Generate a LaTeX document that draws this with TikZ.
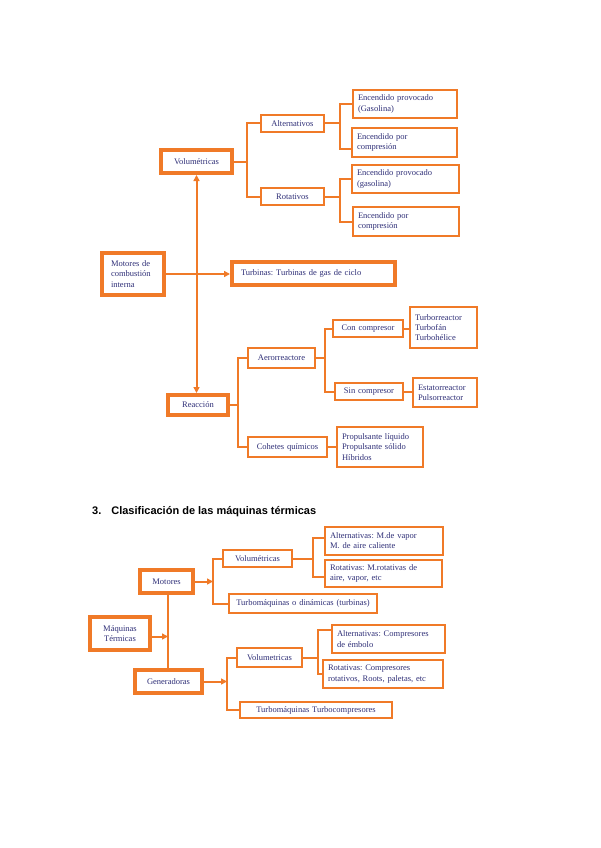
\documentclass[tikz,border=0pt]{standalone}
\usepackage{fontspec}
\setmainfont{Liberation Serif}
\newfontfamily\titlefont{Liberation Sans}
\usetikzlibrary{arrows.meta}
\definecolor{org}{RGB}{240,122,40}
\definecolor{ink}{RGB}{48,48,120}
\frenchspacing
\newcommand\mybox[7]{%
  \pgfmathsetmacro\bw{#5-#3}%
  \pgfmathsetmacro\bh{#6-#4}%
  \pgfmathsetmacro\bcx{(#3+#5)/2}%
  \pgfmathsetmacro\bcy{(#4+#6)/2}%
  \pgfmathsetmacro\btw{#5-#3-10}%
  \node[#1, minimum width=\bw pt, minimum height=\bh pt, text width=\btw pt] (#2) at (\bcx,\bcy) {#7};}
\tikzset{
  basebox/.style={draw=org, fill=white, text=ink, font=\fontsize{8.5}{10.2}\selectfont\frenchspacing, inner xsep=5pt, inner ysep=0pt, align=left},
  lightbox/.style={basebox, line width=2.2pt},
  heavybox/.style={basebox, line width=4pt},
  ctr/.style={align=center},
  pad/.style={inner xsep=9pt},
  conn/.style={draw=org, line width=2pt},
  arr/.style={conn, -{Triangle[length=6pt,width=6pt]}},
  darr/.style={conn, {Triangle[length=6pt,width=6pt]}-{Triangle[length=6pt,width=6pt]}},
}
\begin{document}
\begin{tikzpicture}[x=1pt,y=-1pt]
\useasboundingbox[fill=white] (0,0) rectangle (600,848);
% ---------- top diagram ----------
\mybox{heavybox,ctr}{vol}{161}{150}{232}{173}{Volumétricas}
\mybox{lightbox,ctr}{alt}{261}{115}{324}{132}{Alternativos}
\mybox{lightbox,ctr}{rot}{261}{188}{324}{205}{Rotativos}
\mybox{lightbox}{e1}{353}{90}{457}{118}{Encendido provocado\\(Gasolina)}
\mybox{lightbox}{e2}{352}{128}{457}{157}{Encendido por\\compresión}
\mybox{lightbox}{e3}{352}{165}{459}{193}{Encendido provocado\\(gasolina)}
\mybox{lightbox}{e4}{353}{207}{459}{236}{Encendido por\\compresión}
\mybox{heavybox,pad}{mci}{106}{253}{160}{295}{Motores de\\combustión\\interna}
\mybox{heavybox,pad}{tur}{236}{262}{391}{285}{Turbinas: Turbinas de gas de ciclo}
\mybox{heavybox,ctr}{rea}{168}{395}{228}{415}{Reacción}
\mybox{lightbox,ctr}{aer}{248}{348}{315}{368}{Aerorreactore}
\mybox{lightbox,ctr}{coh}{248}{437}{327}{457}{Cohetes químicos}
\mybox{lightbox,ctr}{con}{333}{320}{403}{337}{Con compresor}
\mybox{lightbox}{tb}{410}{307}{477}{348}{Turborreactor\\Turbofán\\Turbohélice}
\mybox{lightbox,ctr}{sin}{335}{383}{403}{400}{Sin compresor}
\mybox{lightbox}{est}{413}{378}{477}{407}{Estatorreactor\\Pulsorreactor}
\mybox{lightbox}{pro}{337}{427}{423}{467}{Propulsante líquido\\Propulsante sólido\\Híbridos}

\coordinate (j1) at (247,0);
\draw[conn] (vol.east) -- (vol.east -| j1);
\draw[conn] (alt.west) -| (j1 |- rot.west) -- (rot.west);
\coordinate (j2) at (340,0);
\coordinate (e2in) at ([yshift=-6pt]e2.west);
\draw[conn] (alt.east) -- (alt.east -| j2);
\draw[conn] (e1.west) -| (j2 |- e2in) -- (e2in);
\draw[conn] (rot.east) -- (rot.east -| j2);
\draw[conn] (e3.west) -| (j2 |- e4.west) -- (e4.west);
\draw[arr] (mci.east) -- (mci.east -| tur.west);
\draw[darr] (vol.south) -- (vol.south |- rea.north);
\coordinate (j3) at (238,0);
\draw[conn] (rea.east) -- (rea.east -| j3);
\draw[conn] (aer.west) -| (j3 |- coh.west) -- (coh.west);
\coordinate (j4) at (325,0);
\draw[conn] (aer.east) -- (aer.east -| j4);
\draw[conn] (con.west) -| (j4 |- sin.west) -- (sin.west);
\draw[conn] (con.east) -- (con.east -| tb.west);
\draw[conn] (sin.east) -- (sin.east -| est.west);
\draw[conn] (coh.east) -- (coh.east -| pro.west);

% ---------- title ----------
\node[anchor=base west, inner sep=0pt, font=\titlefont\bfseries\fontsize{11}{13}\selectfont] (title) at (92,514) {3.\hspace{10pt}Clasificación de las máquinas térmicas};

% ---------- bottom diagram ----------
\mybox{heavybox,ctr}{mot}{140}{570}{193}{593}{Motores}
\mybox{lightbox,ctr}{vol2}{223}{550}{292}{567}{Volumétricas}
\mybox{lightbox,ctr}{tm}{229}{594}{377}{613}{Turbomáquinas o dinámicas (turbinas)}
\mybox{lightbox}{a2}{325}{527}{443}{555}{Alternativas: M.de vapor\\M. de aire caliente}
\mybox{lightbox}{r2}{325}{560}{442}{587}{Rotativas: M.rotativas de\\aire, vapor, etc}
\mybox{heavybox,ctr}{mt}{90}{617}{150}{650}{Máquinas\\Térmicas}
\mybox{heavybox,ctr}{gen}{135}{670}{202}{693}{Generadoras}
\mybox{lightbox,ctr}{vol3}{237}{648}{302}{667}{Volumetricas}
\mybox{lightbox}{a3}{332}{625}{445}{653}{Alternativas: Compresores\\de émbolo}
\mybox{lightbox}{r3}{323}{660}{443}{688}{Rotativas: Compresores\\rotativos, Roots, paletas, etc}
\mybox{lightbox,ctr}{tc}{240}{702}{392}{718}{Turbomáquinas Turbocompresores}

\coordinate (k1) at (213,0);
\draw[arr] (mot.east) -- (mot.east -| k1);
\draw[conn] (vol2.west) -| (k1 |- tm.west) -- (tm.west);
\coordinate (k2) at (313,0);
\coordinate (a2in) at ([yshift=3pt]a2.west);
\coordinate (r2in) at ([yshift=-3.5pt]r2.west);
\draw[conn] (vol2.east) -- (vol2.east -| k2);
\draw[conn] (a2in) -| (k2 |- r2in) -- (r2in);
\coordinate (k3) at (168,0);
\draw[arr] ([yshift=-3pt]mt.east) -- ([yshift=-3pt]mt.east -| k3);
\draw[conn] (k3 |- mot.south) -- (k3 |- gen.north);
\coordinate (k4) at (227,0);
\draw[arr] (gen.east) -- (gen.east -| k4);
\draw[conn] (vol3.west) -| (k4 |- tc.west) -- (tc.west);
\coordinate (k5) at (318,0);
\coordinate (a3in) at ([yshift=9pt]a3.west);
\draw[conn] (vol3.east) -- (vol3.east -| k5);
\draw[conn] (a3in) -| (k5 |- r3.west) -- (r3.west);
\end{tikzpicture}
\end{document}
